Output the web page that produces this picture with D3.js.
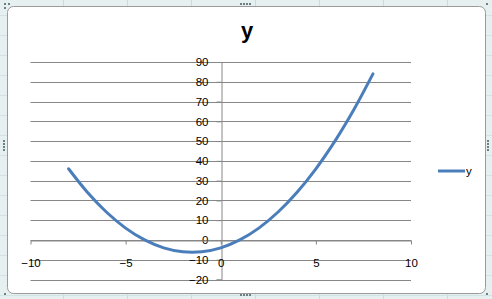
<!DOCTYPE html>
<html>
<head>
<meta charset="utf-8">
<script src="https://cdn.jsdelivr.net/npm/d3@7"></script>
<style>
  body { margin: 0; background: #ffffff; }
  svg { display: block; }
  text { font-family: "Liberation Sans", Arial, sans-serif; fill: #000; }
</style>
</head>
<body>
<svg width="492" height="299"></svg>
<script>
// Chart data
var xValues = [-8, -7, -6, -5, -4, -3, -2, -1, 0, 1, 2, 3, 4, 5, 6, 7, 8];
var yValues = [36, 24, 14, 6, 0, -4, -6, -6, -4, 0, 6, 14, 24, 36, 50, 66, 84];
var xTicks = [-10, -5, 0, 5, 10];
var yTicks = [-20, -10, 0, 10, 20, 30, 40, 50, 60, 70, 80, 90];
var seriesName = "y";

var svg = d3.select("svg");

// Spreadsheet background behind the chart
svg.append("rect").attr("width", 492).attr("height", 299).attr("fill", "#e6f0f0");
[63.5, 127.5, 191.5, 255.5, 319.5, 383.5, 447.5].forEach(function(x) {
  svg.append("line").attr("x1", x).attr("x2", x).attr("y1", 0).attr("y2", 299)
    .attr("stroke", "#c9dcdc");
});
[15.5, 35.5, 55.5, 75.5, 95.5, 115.5, 135.5, 155.5, 175.5, 195.5, 215.5, 235.5, 255.5, 275.5, 295.5].forEach(function(y) {
  svg.append("line").attr("x1", 0).attr("x2", 492).attr("y1", y).attr("y2", y)
    .attr("stroke", "#d3e3e3");
});

// Chart area with rounded border
svg.append("rect")
  .attr("x", 7.5).attr("y", 6.5).attr("width", 478).attr("height", 287)
  .attr("rx", 6).attr("fill", "#ffffff").attr("stroke", "#9a9a9a");

// Selection handles
function handles(x, y, vertical) {
  for (var i = 0; i < 4; i++) {
    svg.append("rect")
      .attr("x", vertical ? x : x + i * 3).attr("y", vertical ? y + i * 3 : y)
      .attr("width", 2).attr("height", 2).attr("fill", "#6d7f80");
  }
}
handles(240, 3, false);
handles(240, 294, false);
handles(3, 140, true);
handles(487, 140, true);
svg.append("rect").attr("x", 4).attr("y", 3).attr("width", 2).attr("height", 2).attr("fill", "#6d7f80");
svg.append("rect").attr("x", 8).attr("y", 3).attr("width", 2).attr("height", 2).attr("fill", "#6d7f80");
svg.append("rect").attr("x", 4).attr("y", 7).attr("width", 2).attr("height", 2).attr("fill", "#6d7f80");
svg.append("rect").attr("x", 486).attr("y", 3).attr("width", 2).attr("height", 2).attr("fill", "#6d7f80");
svg.append("rect").attr("x", 486).attr("y", 293).attr("width", 2).attr("height", 2).attr("fill", "#6d7f80");
svg.append("rect").attr("x", 4).attr("y", 293).attr("width", 2).attr("height", 2).attr("fill", "#6d7f80");

// Scales
var x = d3.scaleLinear().domain([-10, 10]).range([30.5, 411]);
var y = d3.scaleLinear().domain([-20, 90]).range([279.5, 62]);

// Horizontal gridlines
svg.append("g").selectAll("line").data(yTicks).join("line")
  .attr("x1", x(-10)).attr("x2", x(10))
  .attr("y1", function(d) { return Math.round(y(d)) + 0.5; })
  .attr("y2", function(d) { return Math.round(y(d)) + 0.5; })
  .attr("stroke", "#878787");

// Y axis at x = 0
var yAxis = svg.append("g")
  .attr("transform", "translate(" + (Math.round(x(0)) + 0.5) + ",0)")
  .call(d3.axisLeft(y).tickValues(yTicks).tickSize(5).tickPadding(8));
yAxis.select(".domain").attr("stroke", "#878787");
yAxis.selectAll(".tick line").attr("stroke", "#878787");
yAxis.selectAll(".tick text").attr("font-size", 11.5).attr("fill", "#000")
  .attr("font-family", "Liberation Sans, Arial, sans-serif");

// X axis at y = 0
var xAxis = svg.append("g")
  .attr("transform", "translate(0," + (Math.round(y(0)) + 0.5) + ")")
  .call(d3.axisBottom(x).tickValues(xTicks).tickSize(4).tickSizeOuter(0).tickPadding(14));
xAxis.select(".domain").attr("stroke", "#878787");
xAxis.selectAll(".tick line").attr("stroke", "#878787");
xAxis.selectAll(".tick text").attr("font-size", 11.5).attr("fill", "#000")
  .attr("font-family", "Liberation Sans, Arial, sans-serif");

// Smoothed series line
var line = d3.line()
  .x(function(d, i) { return x(xValues[i]); })
  .y(function(d) { return y(d); })
  .curve(d3.curveCatmullRom.alpha(0.5));

svg.append("path")
  .datum(yValues)
  .attr("d", line)
  .attr("fill", "none")
  .attr("stroke", "#4a7ebb")
  .attr("stroke-width", 3)
  .attr("stroke-linecap", "round");

// Title
svg.append("text")
  .attr("x", 247).attr("y", 38)
  .attr("text-anchor", "middle")
  .attr("font-size", 22).attr("font-weight", "bold")
  .text(seriesName);

// Legend
svg.append("line")
  .attr("x1", 438).attr("x2", 465).attr("y1", 171).attr("y2", 171)
  .attr("stroke", "#4a7ebb").attr("stroke-width", 3);
svg.append("text")
  .attr("x", 466).attr("y", 175)
  .attr("font-size", 11.5)
  .text(seriesName);
</script>
</body>
</html>
